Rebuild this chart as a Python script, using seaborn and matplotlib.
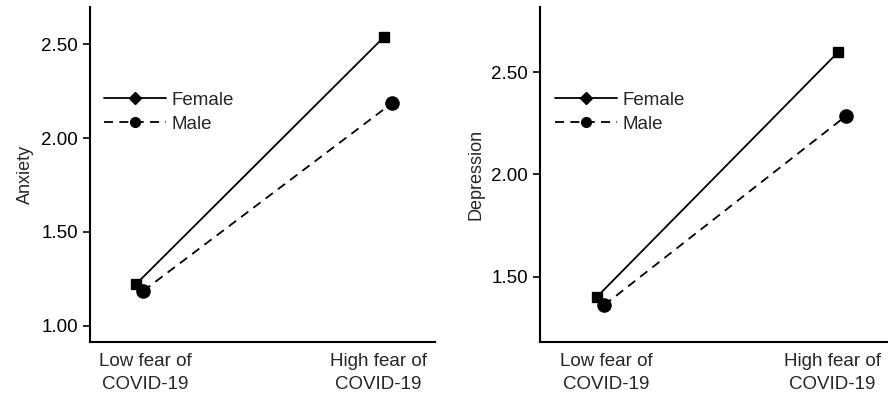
import matplotlib
matplotlib.use("Agg")
import matplotlib.pyplot as plt
import matplotlib.transforms as mtransforms
from matplotlib.lines import Line2D
import seaborn as sns
import pandas as pd

# --- Data ---
fear_levels = ["Low fear of\nCOVID-19", "High fear of\nCOVID-19"]
groups = ["Female", "Male"]

anxiety_female = [1.22, 2.54]
anxiety_male = [1.185, 2.185]
depression_female = [1.40, 2.60]
depression_male = [1.36, 2.285]

anxiety_ticks = [1.00, 1.50, 2.00, 2.50]
depression_ticks = [1.50, 2.00, 2.50]


def make_frame(female, male, name):
    rows = []
    for lvl, f, m in zip(fear_levels, female, male):
        rows.append({"fear": lvl, "sex": "Female", name: f})
        rows.append({"fear": lvl, "sex": "Male", name: m})
    return pd.DataFrame(rows)


sns.set_theme(style="ticks")
plt.rcParams["font.family"] = ["Liberation Sans", "DejaVu Sans"]

fig = plt.figure(figsize=(8.88, 4.01), dpi=100)
ax_left = fig.add_axes([0.101, 0.147, 0.389, 0.836])
ax_right = fig.add_axes([0.608, 0.147, 0.392, 0.836])

panels = [
    (ax_left, make_frame(anxiety_female, anxiety_male, "Anxiety"), "Anxiety",
     anxiety_ticks, (0.913, 2.70), (-0.2, 1.19)),
    (ax_right, make_frame(depression_female, depression_male, "Depression"), "Depression",
     depression_ticks, (1.18, 2.82), (-0.25, 1.19)),
]

# small horizontal nudges of the category labels (in points)
label_shift = [4, -7]

for ax, df, name, ticks, ylim, xlim in panels:
    sns.pointplot(data=df, x="fear", y=name, hue="sex", hue_order=groups,
                  palette=["black", "black"], markers=["s", "o"],
                  linestyles=["-", "--"], dodge=0.03, ax=ax,
                  markersize=7, linewidth=1.3, legend=False)
    # circles are drawn a bit larger than the squares, dashes a bit longer
    for ln in ax.lines:
        if ln.get_marker() == "o":
            ln.set_markersize(9.5)
            ln.set_dashes((5, 3.5))
    ax.set_ylim(*ylim)
    ax.set_xlim(*xlim)
    ax.set_yticks(ticks)
    ax.set_yticklabels([f"{t:.2f}" for t in ticks])
    ax.set_xlabel("")
    ax.set_ylabel(name, fontsize=13, labelpad=5)
    ax.tick_params(axis="x", length=0, pad=8, labelsize=13.5)
    for lab, dx in zip(ax.get_xticklabels(), label_shift):
        lab.set_linespacing(1.45)
        lab.set_transform(lab.get_transform() +
                          mtransforms.ScaledTranslation(dx / 72, 0, fig.dpi_scale_trans))
    ax.tick_params(axis="y", length=5, width=1.2, labelsize=13.5, colors="black")
    for sp in ["left", "bottom"]:
        ax.spines[sp].set_linewidth(1.5)
        ax.spines[sp].set_color("black")
    sns.despine(ax=ax)

    handles = [
        Line2D([], [], color="black", linestyle="-", marker="D", markersize=6, linewidth=1.3),
        Line2D([], [], color="black", linestyle=(0, (5, 3.5)), marker="o", markersize=7, linewidth=1.3),
    ]
    ax.legend(handles, groups, loc="upper left", bbox_to_anchor=(0.01, 0.78),
              frameon=False, fontsize=13.5, handlelength=3.3, handletextpad=0.3,
              labelspacing=0.35, borderaxespad=0.2)

fig.savefig("out.png", dpi=100)
